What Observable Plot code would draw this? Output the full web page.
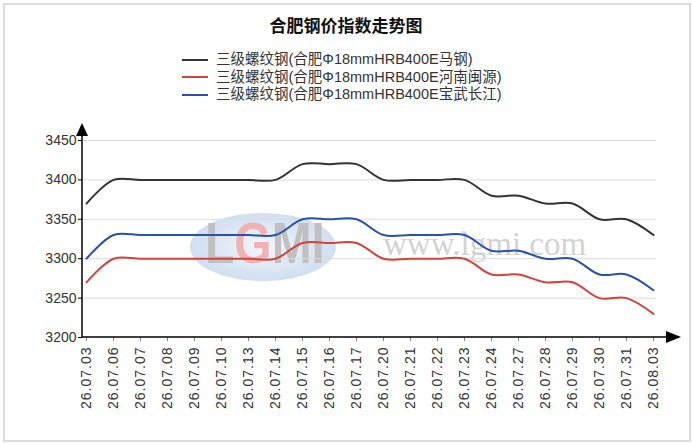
<!DOCTYPE html>
<html><head><meta charset="utf-8">
<script src="https://cdn.jsdelivr.net/npm/d3@7"></script>
<script src="https://cdn.jsdelivr.net/npm/@observablehq/plot@0.6"></script>
<style>
html,body{margin:0;padding:0;background:#fff;}
#wrap{position:relative;width:692px;height:444px;overflow:hidden;font-family:"Liberation Sans",Arial,"Noto Sans CJK SC",sans-serif;color:#333;}
#frame{position:absolute;left:3px;top:3px;width:684px;height:435px;border:2px solid #dcdcdc;box-sizing:content-box;pointer-events:none;}
#header{position:relative;height:115px;}
#title{position:absolute;left:0;width:692px;top:12px;text-align:center;font-family:"Noto Sans CJK SC",sans-serif;font-weight:bold;font-size:17px;color:#111;}
#legend{position:absolute;left:182px;top:51px;font-family:"Liberation Sans",Arial,"Noto Sans CJK SC",sans-serif;font-size:14.5px;color:#333;}
.row{height:17.6px;line-height:17.6px;white-space:nowrap;display:flex;align-items:center;}
.sw{width:26px;height:2px;margin-right:8px;}
#chart svg [aria-label="x-axis tick label"] text{letter-spacing:1px;}
</style>
</head><body>
<div id="wrap">
  <div id="header"><div id="title"></div><div id="legend"></div></div>
  <div id="chart"></div>
  <div id="frame"></div>
</div>
<script>
const title = "合肥钢价指数走势图";
const dates = ["26.07.03","26.07.06","26.07.07","26.07.08","26.07.09","26.07.10","26.07.13","26.07.14","26.07.15","26.07.16","26.07.17","26.07.20","26.07.21","26.07.22","26.07.23","26.07.24","26.07.27","26.07.28","26.07.29","26.07.30","26.07.31","26.08.03"];
const seriesNames = ["三级螺纹钢(合肥Φ18mmHRB400E马钢)","三级螺纹钢(合肥Φ18mmHRB400E河南闽源)","三级螺纹钢(合肥Φ18mmHRB400E宝武长江)"];
const colors = ["#333333","#d5413b","#2a4fb3"];
const maSteel   = [3370,3400,3400,3400,3400,3400,3400,3400,3420,3420,3420,3400,3400,3400,3400,3380,3380,3370,3370,3350,3350,3330];
const henanMinyuan = [3270,3300,3300,3300,3300,3300,3300,3300,3320,3320,3320,3300,3300,3300,3300,3280,3280,3270,3270,3250,3250,3230];
const baowuChangjiang = [3300,3330,3330,3330,3330,3330,3330,3330,3350,3350,3350,3330,3330,3330,3330,3310,3310,3300,3300,3280,3280,3260];
const yTicks = [3200,3250,3300,3350,3400,3450];
const logoText = "LGMI";
const watermarkText = "www.lgmi.com";

const seriesValues = [maSteel, henanMinyuan, baowuChangjiang];
const data = [];
seriesNames.forEach((s, i) => seriesValues[i].forEach((v, j) => data.push({series: s, date: dates[j], value: v})));

document.getElementById("title").textContent = title;
const legend = document.getElementById("legend");
seriesNames.forEach((s, i) => {
  const row = document.createElement("div"); row.className = "row";
  const sw = document.createElement("span"); sw.className = "sw"; sw.style.background = colors[i];
  const t = document.createElement("span"); t.textContent = s;
  row.appendChild(sw); row.appendChild(t); legend.appendChild(row);
});

const W = 692, H = 329, mL = 82, mR = 36, mT = 25, mB = 107;
const NS = "http://www.w3.org/2000/svg";
function el(tag, attrs, parent) {
  const e = document.createElementNS(NS, tag);
  for (const k in attrs) e.setAttribute(k, attrs[k]);
  if (parent) parent.appendChild(e);
  return e;
}

const watermark = (index, scales, values, dim) => {
  const g = el("g", {"pointer-events": "none", "text-anchor": "start"});
  const defs = el("defs", {}, g);
  const grad = el("radialGradient", {id: "wmg", cx: "50%", cy: "50%", r: "50%"}, defs);
  el("stop", {offset: "0%", "stop-color": "#f1f5fb"}, grad);
  el("stop", {offset: "100%", "stop-color": "#c8d9ee"}, grad);
  const lg = el("linearGradient", {id: "wml", gradientUnits: "userSpaceOnUse", x1: 0, y1: 0, x2: 120, y2: 0}, defs);
  [[0,"#c0c0c0"],[0.244,"#c0c0c0"],[0.244,"#f0b3b3"],[0.553,"#f0b3b3"],[0.553,"#c0c0c0"],[1,"#c0c0c0"]]
    .forEach(([o, c]) => el("stop", {offset: o, "stop-color": c}, lg));
  el("ellipse", {cx: 263, cy: 132, rx: 73, ry: 34, fill: "url(#wmg)", opacity: 0.85}, g);
  const t = el("text", {x: 0, y: 0, transform: "translate(205,148) scale(1,1.2)", "font-family": "Liberation Sans, Arial, sans-serif", "font-weight": "bold", "font-size": 48, fill: "url(#wml)"}, g);
  t.textContent = logoText;
  const w = el("text", {x: 383, y: 140, "font-family": "Liberation Serif, DejaVu Serif, serif", "font-size": 33, fill: "#d3d3d3"}, g);
  w.textContent = watermarkText;
  return g;
};

const axesArrows = (index, scales, values, dim) => {
  const g = el("g", {});
  const x0 = dim.marginLeft, y0 = dim.height - dim.marginBottom;
  const yTop = dim.marginTop - 17, xEnd = dim.width - dim.marginRight + 25;
  el("line", {x1: x0, y1: y0, x2: x0, y2: yTop + 10, stroke: "#000", "stroke-width": 1.5}, g);
  el("path", {d: `M${x0},${yTop} L${x0 - 6},${yTop + 13} L${x0 + 6},${yTop + 13} Z`, fill: "#000"}, g);
  el("line", {x1: x0, y1: y0, x2: xEnd - 10, y2: y0, stroke: "#000", "stroke-width": 1.5}, g);
  el("path", {d: `M${xEnd},${y0} L${xEnd - 15},${y0 - 6} L${xEnd - 15},${y0 + 6} Z`, fill: "#000"}, g);
  return g;
};

const chart = Plot.plot({
  width: W, height: H, marginLeft: mL, marginRight: mR, marginTop: mT, marginBottom: mB,
  style: {background: "transparent", fontFamily: "Liberation Sans, Arial, sans-serif", fontSize: "14px", color: "#333", overflow: "visible"},
  x: {type: "point", domain: dates, padding: 0},
  y: {domain: [3200, 3450]},
  color: {domain: seriesNames, range: colors},
  marks: [
    watermark,
    Plot.gridY(yTicks.slice(1), {stroke: "#dcdcdc", strokeOpacity: 1, strokeWidth: 1}),
    Plot.axisY({ticks: yTicks, tickFormat: d3.format("d"), tickSize: 4, tickPadding: 2, label: null, stroke: "#000", fill: "#333"}),
    Plot.axisX({tickRotate: -90, tickSize: 4, tickPadding: 5, label: null, stroke: "#888", fill: "#333"}),
    Plot.line(data, {x: "date", y: "value", stroke: "series", curve: "catmull-rom", strokeWidth: 2}),
    axesArrows
  ]
});
document.getElementById("chart").appendChild(chart);
</script>
</body></html>
